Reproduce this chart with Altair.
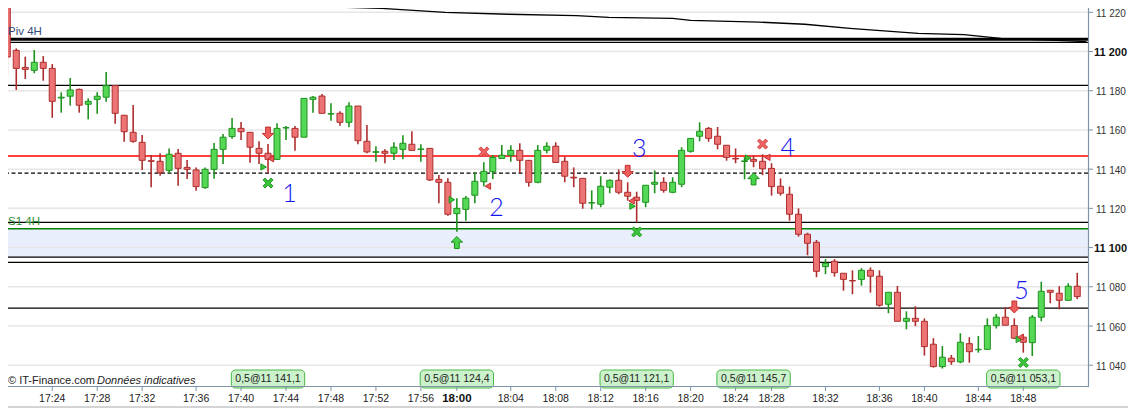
import altair as alt
import pandas as pd

# ---------------- data ----------------
O = [11228.0,
     11200.6, 11191.9, 11190.4, 11194.5, 11191.4, 11176.3, 11177.2, 11180.7, 11173.1,
     11175.6, 11176.7, 11182.6, 11167.5, 11158.8, 11153.7, 11144.3, 11144.0, 11139.4, 11148.1,
     11140.9, 11139.6, 11130.6, 11139.9, 11150.1, 11156.6, 11160.8, 11158.8, 11150.6, 11148.1,
     11145.0, 11161.0, 11160.8, 11156.3, 11175.6, 11177.3, 11168.1, 11168.5, 11163.9, 11172.2,
     11154.2, 11148.6, 11149.1, 11148.1, 11150.1, 11152.7, 11150.1, 11150.6, 11134.8, 11133.3,
     11117.3, 11119.5, 11126.7, 11133.6, 11138.7, 11145.5, 11147.1, 11149.6, 11144.5, 11133.3,
     11149.6, 11151.7, 11144.0, 11135.9, 11135.3, 11122.7, 11122.1, 11130.8, 11134.3, 11128.2,
     11125.7, 11123.1, 11132.3, 11133.3, 11128.2, 11132.3, 11149.1, 11156.8, 11160.8, 11156.8,
     11152.2, 11145.5, 11143.9, 11145.0, 11144.0, 11140.4, 11131.3, 11127.2, 11117.0, 11106.8,
     11102.7, 11090.3, 11093.0, 11086.9, 11083.2, 11083.8, 11088.4, 11085.4, 11071.1, 11077.2,
     11062.4, 11063.9, 11062.4, 11050.7, 11039.3, 11043.6, 11041.7, 11051.0, 11047.9, 11048.1,
     11060.2, 11064.5, 11060.2, 11054.3, 11051.5, 11064.5, 11078.2, 11076.7, 11073.1, 11080.3]
H = [11230.0,
     11201.6, 11197.4, 11200.8, 11197.7, 11193.6, 11179.2, 11186.5, 11181.1, 11176.1,
     11179.2, 11189.6, 11182.6, 11167.5, 11172.7, 11157.4, 11147.2, 11148.1, 11150.6, 11150.3,
     11144.7, 11140.9, 11140.9, 11153.4, 11157.9, 11166.1, 11164.0, 11158.8, 11154.2, 11152.8,
     11163.4, 11162.0, 11162.0, 11176.3, 11177.3, 11178.3, 11173.6, 11169.5, 11174.1, 11172.2,
     11162.5, 11151.7, 11150.1, 11153.7, 11157.3, 11159.3, 11152.7, 11150.6, 11137.0, 11135.3,
     11125.2, 11126.3, 11138.4, 11143.5, 11147.2, 11152.3, 11152.2, 11153.2, 11144.5, 11152.3,
     11153.7, 11153.7, 11146.4, 11140.9, 11135.3, 11129.2, 11136.4, 11134.8, 11139.9, 11133.3,
     11128.5, 11131.8, 11139.4, 11135.9, 11135.9, 11151.2, 11155.7, 11163.9, 11161.5, 11161.5,
     11152.2, 11150.6, 11146.1, 11147.1, 11147.6, 11143.0, 11135.3, 11131.1, 11120.0, 11107.6,
     11103.9, 11094.1, 11094.1, 11086.9, 11088.4, 11089.5, 11089.9, 11088.4, 11077.2, 11080.4,
     11067.5, 11070.1, 11063.9, 11053.8, 11049.8, 11045.2, 11056.3, 11054.3, 11054.9, 11063.9,
     11066.2, 11069.6, 11063.9, 11055.5, 11065.6, 11082.6, 11078.2, 11080.3, 11081.8, 11087.1]
L = [11188.0,
     11180.4, 11186.0, 11188.9, 11185.1, 11166.2, 11168.8, 11172.4, 11168.8, 11165.4,
     11168.3, 11174.4, 11163.2, 11154.0, 11153.5, 11139.6, 11130.8, 11136.7, 11137.9, 11131.6,
     11135.0, 11129.0, 11130.0, 11135.1, 11142.6, 11155.5, 11154.9, 11143.3, 11142.6, 11137.9,
     11144.7, 11154.9, 11149.4, 11156.3, 11168.8, 11168.5, 11164.7, 11162.2, 11161.4, 11152.7,
     11148.1, 11143.8, 11143.0, 11144.7, 11145.0, 11149.6, 11143.8, 11134.0, 11122.6, 11116.3,
     11108.1, 11113.7, 11122.6, 11131.1, 11135.0, 11145.5, 11143.8, 11137.9, 11131.1, 11132.8,
     11148.1, 11143.2, 11133.3, 11130.8, 11119.8, 11119.5, 11120.6, 11127.7, 11127.2, 11123.9,
     11112.7, 11120.6, 11127.7, 11128.0, 11127.7, 11130.8, 11148.4, 11154.2, 11154.0, 11150.1,
     11144.3, 11143.0, 11134.8, 11141.0, 11136.9, 11126.5, 11126.5, 11113.7, 11105.6, 11096.1,
     11084.9, 11086.4, 11085.2, 11078.0, 11076.2, 11080.6, 11077.0, 11069.9, 11066.5, 11062.4,
     11058.3, 11059.9, 11044.9, 11038.8, 11038.3, 11040.2, 11041.0, 11041.3, 11046.4, 11047.8,
     11058.7, 11060.4, 11053.3, 11046.4, 11044.7, 11062.4, 11071.6, 11068.5, 11073.1, 11073.7]
C = [11197.2,
     11191.4, 11190.9, 11194.5, 11191.4, 11174.6, 11176.7, 11180.4, 11172.6, 11174.6,
     11177.2, 11182.6, 11168.5, 11159.1, 11154.2, 11144.5, 11144.0, 11138.2, 11147.6, 11140.4,
     11139.9, 11131.1, 11139.9, 11150.1, 11156.3, 11160.8, 11159.1, 11151.2, 11148.1, 11145.0,
     11160.8, 11161.2, 11156.3, 11176.1, 11176.7, 11168.5, 11168.3, 11163.9, 11172.2, 11154.5,
     11148.8, 11148.9, 11148.1, 11151.2, 11153.2, 11149.6, 11150.3, 11134.5, 11133.3, 11117.0,
     11120.0, 11125.2, 11133.8, 11138.9, 11146.0, 11147.1, 11149.6, 11144.5, 11133.3, 11149.6,
     11151.7, 11143.4, 11136.4, 11135.5, 11122.6, 11122.9, 11131.3, 11134.3, 11128.2, 11126.2,
     11124.1, 11131.8, 11133.3, 11129.2, 11133.3, 11149.6, 11155.7, 11159.3, 11155.7, 11152.7,
     11146.0, 11145.2, 11144.2, 11144.0, 11140.2, 11131.1, 11127.7, 11117.0, 11106.8, 11102.2,
     11087.9, 11092.0, 11087.2, 11083.8, 11083.0, 11088.4, 11085.4, 11070.6, 11077.2, 11062.4,
     11063.9, 11062.4, 11049.5, 11039.3, 11044.1, 11041.8, 11051.7, 11046.9, 11048.1, 11060.2,
     11064.5, 11060.4, 11053.8, 11051.7, 11064.5, 11077.7, 11077.2, 11073.1, 11080.3, 11075.0]

tick_idx = [6, 11, 16, 22, 27, 32, 37, 42, 47, 51, 57, 62, 67, 72, 77, 82, 86, 92, 98, 103, 109, 114]
tick_lbl = ["17:24", "17:28", "17:32", "17:36", "17:40", "17:44", "17:48", "17:52", "17:56", "18:00",
            "18:04", "18:08", "18:12", "18:16", "18:20", "18:24", "18:28", "18:32", "18:36", "18:40",
            "18:44", "18:48"]
y_ticks = [11040, 11060, 11080, 11100, 11120, 11140, 11160, 11180, 11200, 11220]

ma_idx = [1, 11.8, 21.7, 33.8, 42.6, 49.7, 56.7, 64.3, 67.9, 75.0, 77.0, 84.6, 89.7, 94.7, 102.3, 107.4, 111.5, 119.1, 121]
ma_val = [11228.2, 11226.3, 11224.6, 11223.2, 11222.0, 11220.0, 11219.0, 11218.3, 11217.4, 11216.9, 11215.9,
          11215.0, 11213.9, 11211.8, 11209.3, 11208.6, 11206.7, 11205.4, 11205.1]

pivot_level = [11206.2]
black_levels = [11204.7, 11182.7, 11112.9, 11095.1, 11092.5, 11069.1]
red_level = [11146.7]
green_level = [11109.6]
dashed_level = [11138.0]
band_lo = [11095.1]
band_hi = [11109.6]

red_arrow_i = [30, 70, 113]
red_arrow_p = [11158.4, 11138.9, 11069.7]
green_arrow_i = [51, 84]
green_arrow_p = [11102.6, 11135.0]
red_x_i = [54, 85]
red_x_p = [11148.8, 11152.8]
green_x_i = [30, 71, 114]
green_x_p = [11132.9, 11108.0, 11041.4]
green_tri_i = [29.51, 50.45, 70.54, 83.4, 113.5]
green_tri_p = [11141.1, 11124.4, 11121.1, 11145.7, 11053.1]
red_tri_i = [30.32, 54.45, 70.43, 85.53, 113.7]
red_tri_p = [11145.3, 11131.3, 11123.8, 11146.0, 11054.3]

num_t = ["1", "2", "3", "4", "5"]
num_i = [32.4, 55.4, 71.3, 87.8, 113.8]
num_p = [11127.4, 11120.2, 11150.4, 11150.8, 11077.9]

lab_i = [30, 51, 71, 84, 114]
lab_t = ["0,5@11 141,1", "0,5@11 124,4", "0,5@11 121,1", "0,5@11 145,7", "0,5@11 053,1"]

# ---------------- chart ----------------
idx = list(range(1, len(O) + 1))
df = pd.DataFrame({"i": idx, "o": O, "h": H, "l": L, "c": C})
df["dir"] = ["up" if c >= o else "down" for o, c in zip(O, C)]

W, HGT = 1080, 378
xs = alt.Scale(domain=[1.636, 120.64], nice=False, zero=False)
ys = alt.Scale(domain=[11029.4, 11222.2], nice=False, zero=False)
FONT = "Liberation Sans"
AXC = "#7F94A6"


def X(f):
    return alt.X(f"{f}:Q", scale=xs, axis=None)


def Y(f):
    return alt.Y(f"{f}:Q", scale=ys, axis=None)


def pts(i, p):
    return pd.DataFrame({"i": i, "p": p})


def lv(vals):
    return pd.DataFrame({"v": vals})


band = alt.Chart(pd.DataFrame({"lo": band_lo, "hi": band_hi})).mark_rect(color="#E8EEFC").encode(
    y=Y("lo"), y2="hi:Q")

grid = alt.Chart(lv(y_ticks)).mark_rule(color="#E6E6E6", strokeWidth=1.5).encode(y=Y("v"))

pivot = alt.Chart(lv(pivot_level)).mark_rule(color="#000000", strokeWidth=3).encode(y=Y("v"))
blacks = alt.Chart(lv(black_levels)).mark_rule(color="#000000", strokeWidth=1.3).encode(y=Y("v"))
redl = alt.Chart(lv(red_level)).mark_rule(color="#FF0000", strokeWidth=1.5).encode(y=Y("v"))
greenl = alt.Chart(lv(green_level)).mark_rule(color="#008000", strokeWidth=1.5).encode(y=Y("v"))
dashl = alt.Chart(lv(dashed_level)).mark_rule(color="#000000", strokeWidth=1.3, strokeDash=[4, 2.5]).encode(
    y=Y("v"))

ma = alt.Chart(pd.DataFrame({"i": ma_idx, "v": ma_val})).mark_line(color="#000000", strokeWidth=1.3,
                                                                     clip=True).encode(x=X("i"), y=Y("v"))

stroke_scale = alt.Scale(domain=["up", "down"], range=["#1F931F", "#AE2E2E"])
wicks = alt.Chart(df).mark_rule(strokeWidth=1.6, clip=True).encode(
    x=X("i"), y=Y("l"), y2="h:Q",
    stroke=alt.Stroke("dir:N", scale=stroke_scale, legend=None),
)
bodies = alt.Chart(df).mark_bar(size=6, strokeWidth=1, clip=True).encode(
    x=X("i"), y=Y("o"), y2="c:Q",
    fill=alt.Fill("dir:N", scale=alt.Scale(domain=["up", "down"], range=["#55D855", "#EC7474"]), legend=None),
    stroke=alt.Stroke("dir:N", scale=stroke_scale, legend=None),
)

DOWN = "M-0.4,-1L0.4,-1L0.4,0.05L0.95,0.05L0,1L-0.95,0.05L-0.4,0.05Z"
UP = "M-0.4,1L0.4,1L0.4,-0.05L0.95,-0.05L0,-1L-0.95,-0.05L-0.4,-0.05Z"
XSHAPE = "M-1,-0.6L-0.6,-1L0,-0.4L0.6,-1L1,-0.6L0.4,0L1,0.6L0.6,1L0,0.4L-0.6,1L-1,0.6L-0.4,0Z"


def marker(i, p, shape, size, fill, stroke):
    return alt.Chart(pts(i, p)).mark_point(shape=shape, size=size, filled=True, fill=fill, stroke=stroke,
                                           strokeWidth=1, opacity=1).encode(x=X("i"), y=Y("p"))


m_ra = marker(red_arrow_i, red_arrow_p, DOWN, 144, "#EE5C5C", "#C23030")
m_ga = marker(green_arrow_i, green_arrow_p, UP, 144, "#48D448", "#1E8E1E")
m_rx = marker(red_x_i, red_x_p, XSHAPE, 100, "#EE6262", "#D04040")
m_gx = marker(green_x_i, green_x_p, XSHAPE, 100, "#3CC43C", "#209A20")
m_gt = marker(green_tri_i, green_tri_p, "triangle-right", 40, "#3CC43C", "#209A20")
m_rt = marker(red_tri_i, red_tri_p, "triangle-left", 40, "#EE5C5C", "#C23030")

nums = alt.Chart(pd.DataFrame({"i": num_i, "p": num_p, "t": num_t})).mark_text(
    font="Lato", fontSize=25, fontWeight=300, color="#1414EE", baseline="middle", align="center").encode(
    x=X("i"), y=Y("p"), text="t:N")

piv_txt = alt.Chart(pd.DataFrame({"p": pivot_level, "t": ["Piv 4H"]})).mark_text(
    font=FONT, fontSize=11.5, color="#34477A", align="left", baseline="bottom", dy=-2).encode(
    x=alt.value(0), y=Y("p"), text="t:N")
s1_txt = alt.Chart(pd.DataFrame({"p": green_level, "t": ["S1 4H"]})).mark_text(
    font=FONT, fontSize=11.5, color="#2E8B2E", align="left", baseline="bottom", dy=-2).encode(
    x=alt.value(0), y=Y("p"), text="t:N")

lab_df = pd.DataFrame({"i": lab_i, "t": lab_t})
boxes = alt.Chart(lab_df).transform_calculate(x1="datum.i - 4.08", x2="datum.i + 4.08").mark_rect(
    fill="#CCF2CC", stroke="#48B848", strokeWidth=1, cornerRadius=4).encode(
    x=alt.X("x1:Q", scale=xs, axis=None), x2="x2:Q", y=alt.value(362), y2=alt.value(380))
box_txt = alt.Chart(lab_df).mark_text(font=FONT, fontSize=10.5, color="#222222", baseline="middle").encode(
    x=X("i"), y=alt.value(371), text="t:N")

copy1 = alt.Chart(pd.DataFrame({"t": ["© IT-Finance.com"]})).mark_text(
    font=FONT, fontSize=11, color="#222222", align="left", baseline="middle").encode(
    x=alt.value(0), y=alt.value(373), text="t:N")
copy2 = alt.Chart(pd.DataFrame({"t": ["Données indicatives"]})).mark_text(
    font=FONT, fontSize=11, fontStyle="italic", color="#222222", align="left", baseline="middle").encode(
    x=alt.value(89), y=alt.value(373), text="t:N")

# ---- axes drawn as marks ----
one = pd.DataFrame({"k": [0]})
x_dom = alt.Chart(one).mark_rule(color=AXC, strokeWidth=1.2).encode(
    x=alt.value(0), x2=alt.value(W), y=alt.value(HGT + 0.5))
y_dom = alt.Chart(one).mark_rule(color=AXC, strokeWidth=1.2).encode(
    x=alt.value(W + 0.5), y=alt.value(0), y2=alt.value(HGT + 1))
bottom_border = alt.Chart(one).mark_rule(color="#A8A8A8", strokeWidth=1).encode(
    x=alt.value(-8), x2=alt.value(W + 48), y=alt.value(HGT + 21))

xt_df = pd.DataFrame({"i": tick_idx, "t": tick_lbl})
x_ticks = alt.Chart(xt_df).mark_rule(color=AXC, strokeWidth=1).encode(
    x=X("i"), y=alt.value(HGT + 1), y2=alt.value(HGT + 5))
x_lbl = alt.Chart(xt_df).transform_filter("datum.t != '18:00'").mark_text(
    font=FONT, fontSize=10.5, color="#222222", baseline="middle", align="center").encode(
    x=X("i"), y=alt.value(HGT + 13), text="t:N")
x_lbl_b = alt.Chart(xt_df).transform_filter("datum.t == '18:00'").mark_text(
    font=FONT, fontSize=11.5, fontWeight="bold", color="#111111", baseline="middle", align="center").encode(
    x=X("i"), y=alt.value(HGT + 13), text="t:N")

yt_df = pd.DataFrame({"v": y_ticks, "t": [f"{v:,}".replace(",", " ") for v in y_ticks]})
y_tk = alt.Chart(yt_df).mark_rule(color=AXC, strokeWidth=1).encode(
    x=alt.value(W + 1), x2=alt.value(W + 5), y=Y("v"))
y_lbl = alt.Chart(yt_df).transform_filter("datum.v % 100 != 0").mark_text(
    font=FONT, fontSize=10, color="#333333", baseline="middle", align="left", dy=1.5).encode(
    x=alt.value(W + 8), y=Y("v"), text="t:N")
y_lbl_b = alt.Chart(yt_df).transform_filter("datum.v % 100 == 0").mark_text(
    font=FONT, fontSize=11, fontWeight="bold", color="#111111", baseline="middle", align="left", dy=1).encode(
    x=alt.value(W + 6), y=Y("v"), text="t:N")

chart = alt.layer(
    band, grid, pivot, blacks, redl, greenl, dashl, ma, wicks, bodies,
    m_ra, m_ga, m_rx, m_gx, m_gt, m_rt, nums, piv_txt, s1_txt, boxes, box_txt, copy1, copy2,
    x_dom, y_dom, bottom_border, x_ticks, x_lbl, x_lbl_b, y_tk, y_lbl, y_lbl_b
).properties(
    width=W, height=HGT,
    autosize=alt.AutoSizeParams(type="none"),
    padding={"left": 0, "top": 0, "right": 40, "bottom": 22},
    background="#FFFFFF",
).configure_view(strokeWidth=0)

chart.save("out.html", embed_options={"renderer": "svg", "actions": False})
